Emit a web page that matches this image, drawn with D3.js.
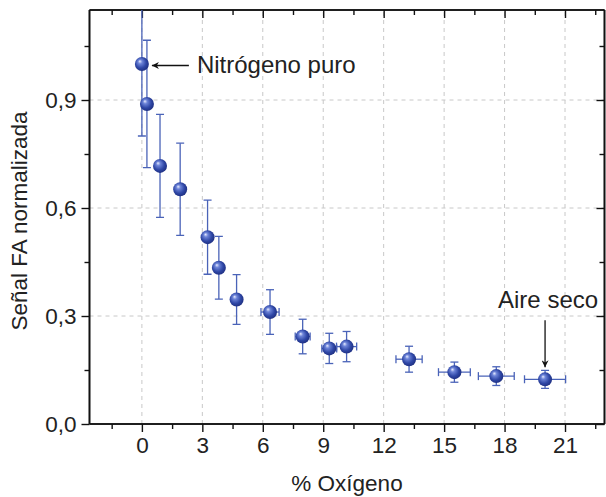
<!DOCTYPE html>
<html>
<head>
<meta charset="utf-8">
<script src="https://cdn.jsdelivr.net/npm/d3@7/dist/d3.min.js"></script>
<style>
  body { margin: 0; background: #fff; }
  svg { display: block; font-family: "Liberation Sans", Arial, sans-serif; }
</style>
</head>
<body>
<svg id="chart"></svg>
<script>
// % oxygen vs normalized PA signal
const oxygen = [0, 0.25, 0.9, 1.9, 3.26, 3.82, 4.7, 6.36, 7.98, 9.3, 10.16, 13.26, 15.51, 17.59, 20.01];
const signal = [1.0, 0.889, 0.717, 0.652, 0.519, 0.434, 0.346, 0.311, 0.243, 0.21, 0.215, 0.18, 0.144, 0.133, 0.124];
const signalErr = [0.2, 0.177, 0.143, 0.128, 0.103, 0.087, 0.069, 0.062, 0.048, 0.042, 0.042, 0.036, 0.028, 0.026, 0.025];
const oxygenErr = [0, 0, 0, 0, 0, 0, 0, 0.45, 0.37, 0.37, 0.5, 0.65, 0.79, 0.89, 1.02];

const xTicks = [0, 3, 6, 9, 12, 15, 18, 21];
const yTicks = [0, 0.3, 0.6, 0.9];

const width = 606, height = 497;
const margin = {top: 10, right: 1.5, bottom: 73, left: 89.5};

const svg = d3.select('#chart')
  .attr('width', width)
  .attr('height', height);

const x = d3.scaleLinear()
  .domain([-2.6, 22.96])
  .range([margin.left, width - margin.right]);

const y = d3.scaleLinear()
  .domain([0, 1.15])
  .range([height - margin.bottom, margin.top]);

const defs = svg.append('defs');
const grad = defs.append('radialGradient')
  .attr('id', 'ball')
  .attr('cx', '45%').attr('cy', '45%').attr('r', '60%')
  .attr('fx', '35%').attr('fy', '30%');
grad.append('stop').attr('offset', '0%').attr('stop-color', '#e8ecff');
grad.append('stop').attr('offset', '25%').attr('stop-color', '#6d84d8');
grad.append('stop').attr('offset', '65%').attr('stop-color', '#2f47a6');
grad.append('stop').attr('offset', '100%').attr('stop-color', '#1c2c7c');

defs.append('clipPath').attr('id', 'plotclip')
  .append('rect')
  .attr('x', x.range()[0]).attr('y', y.range()[1])
  .attr('width', x.range()[1] - x.range()[0])
  .attr('height', y.range()[0] - y.range()[1]);

defs.append('marker')
  .attr('id', 'arrow')
  .attr('viewBox', '0 0 10 10')
  .attr('refX', 10).attr('refY', 5)
  .attr('markerWidth', 9).attr('markerHeight', 7)
  .attr('markerUnits', 'userSpaceOnUse')
  .attr('orient', 'auto')
  .append('path')
  .attr('d', 'M0,0 L10,5 L0,10 L3,5 Z')
  .attr('fill', '#111');

// grid
const grid = svg.append('g');
grid.selectAll('line.gx')
  .data(xTicks)
  .enter().append('line')
  .attr('x1', d => x(d)).attr('x2', d => x(d))
  .attr('y1', y.range()[0]).attr('y2', y.range()[1])
  .attr('stroke', '#c8c8c8').attr('stroke-dasharray', '4,4');
grid.selectAll('line.gy')
  .data(yTicks.slice(1))
  .enter().append('line')
  .attr('y1', d => y(d)).attr('y2', d => y(d))
  .attr('x1', x.range()[0]).attr('x2', x.range()[1])
  .attr('stroke', '#c8c8c8').attr('stroke-dasharray', '4,4');

// axes
const xMinor = d3.range(-1.5, 23, 3);
const yMinor = [0.15, 0.45, 0.75, 1.05];

const xAxis = d3.axisBottom(x).tickValues(xTicks).tickSize(8).tickPadding(5).tickFormat(d3.format('d'));
const gx = svg.append('g')
  .attr('transform', 'translate(0,' + y.range()[0] + ')')
  .call(xAxis);
gx.append('g').call(d3.axisBottom(x).tickValues(xMinor).tickSize(5).tickFormat(''));

const yAxis = d3.axisLeft(y).tickValues(yTicks).tickSize(8).tickPadding(5)
  .tickFormat(d => d3.format('.1f')(d).replace('.', ','));
const gy = svg.append('g')
  .attr('transform', 'translate(' + x.range()[0] + ',0)')
  .call(yAxis);
gy.append('g').call(d3.axisLeft(y).tickValues(yMinor).tickSize(5).tickFormat(''));

// mirrored top / right
const gt = svg.append('g')
  .attr('transform', 'translate(0,' + y.range()[1] + ')')
  .call(d3.axisBottom(x).tickValues(xTicks).tickSize(8).tickFormat(''));
gt.append('g').call(d3.axisBottom(x).tickValues(xMinor).tickSize(5).tickFormat(''));
const gr = svg.append('g')
  .attr('transform', 'translate(' + x.range()[1] + ',0)')
  .call(d3.axisLeft(y).tickValues(yTicks).tickSize(8).tickFormat(''));
gr.append('g').call(d3.axisLeft(y).tickValues(yMinor).tickSize(5).tickFormat(''));

svg.selectAll('.domain').attr('stroke', '#111').attr('stroke-width', 1.6);
gt.selectAll('.domain').attr('d', 'M' + x.range()[0] + ',0H' + x.range()[1]);
gr.selectAll('.domain').attr('d', 'M0,' + y.range()[0] + 'V' + y.range()[1]);
gx.selectAll('.domain').attr('d', 'M' + x.range()[0] + ',0H' + x.range()[1]);
gy.selectAll('.domain').attr('d', 'M0,' + y.range()[0] + 'V' + y.range()[1]);
svg.selectAll('.tick line').attr('stroke', '#111').attr('stroke-width', 1.4);
svg.selectAll('.tick text').attr('font-size', 22.5).attr('fill', '#222')
  .attr('font-family', '"Liberation Sans", Arial, sans-serif');

// axis titles
svg.append('text')
  .attr('x', (x.range()[0] + x.range()[1]) / 2)
  .attr('y', 491)
  .attr('text-anchor', 'middle')
  .attr('font-size', 22.5).attr('fill', '#222')
  .text('% Oxígeno');

svg.append('text')
  .attr('transform', 'translate(27,' + ((y.range()[0] + y.range()[1]) / 2 + 4) + ') rotate(-90)')
  .attr('text-anchor', 'middle')
  .attr('font-size', 22.5).attr('fill', '#222')
  .text('Señal FA normalizada');

// error bars
const pts = oxygen.map((d, i) => ({x: d, y: signal[i], ey: signalErr[i], ex: oxygenErr[i]}));
const bars = svg.append('g').attr('clip-path', 'url(#plotclip)')
  .attr('stroke', '#4a63b8').attr('stroke-width', 1.3);
const cap = 4;
pts.forEach(p => {
  const cx = x(p.x), cy = y(p.y);
  bars.append('line').attr('x1', cx).attr('x2', cx).attr('y1', y(p.y + p.ey)).attr('y2', y(p.y - p.ey));
  bars.append('line').attr('x1', cx - cap).attr('x2', cx + cap).attr('y1', y(p.y + p.ey)).attr('y2', y(p.y + p.ey));
  bars.append('line').attr('x1', cx - cap).attr('x2', cx + cap).attr('y1', y(p.y - p.ey)).attr('y2', y(p.y - p.ey));
  if (p.ex > 0) {
    bars.append('line').attr('y1', cy).attr('y2', cy).attr('x1', x(p.x - p.ex)).attr('x2', x(p.x + p.ex));
    bars.append('line').attr('y1', cy - cap).attr('y2', cy + cap).attr('x1', x(p.x - p.ex)).attr('x2', x(p.x - p.ex));
    bars.append('line').attr('y1', cy - cap).attr('y2', cy + cap).attr('x1', x(p.x + p.ex)).attr('x2', x(p.x + p.ex));
  }
});

svg.append('g').selectAll('circle')
  .data(pts)
  .enter().append('circle')
  .attr('cx', d => x(d.x))
  .attr('cy', d => y(d.y))
  .attr('r', 7)
  .attr('fill', 'url(#ball)');

// annotations
svg.append('line')
  .attr('x1', x(oxygen[0]) + 47).attr('x2', x(oxygen[0]) + 10)
  .attr('y1', y(signal[0]) + 1.5).attr('y2', y(signal[0]) + 1.5)
  .attr('stroke', '#111').attr('stroke-width', 1.3)
  .attr('marker-end', 'url(#arrow)');
svg.append('text')
  .attr('x', x(oxygen[0]) + 55).attr('y', y(signal[0]) + 9)
  .attr('font-size', 24).attr('fill', '#222')
  .text('Nitrógeno puro');

const last = oxygen.length - 1;
svg.append('line')
  .attr('x1', x(oxygen[last])).attr('x2', x(oxygen[last]))
  .attr('y1', y(signal[last]) - 59).attr('y2', y(signal[last]) - 12)
  .attr('stroke', '#111').attr('stroke-width', 1.3)
  .attr('marker-end', 'url(#arrow)');
svg.append('text')
  .attr('x', x(oxygen[last]) + 3).attr('y', y(signal[last]) - 71)
  .attr('text-anchor', 'middle')
  .attr('font-size', 24).attr('fill', '#222')
  .text('Aire seco');
</script>
</body>
</html>
